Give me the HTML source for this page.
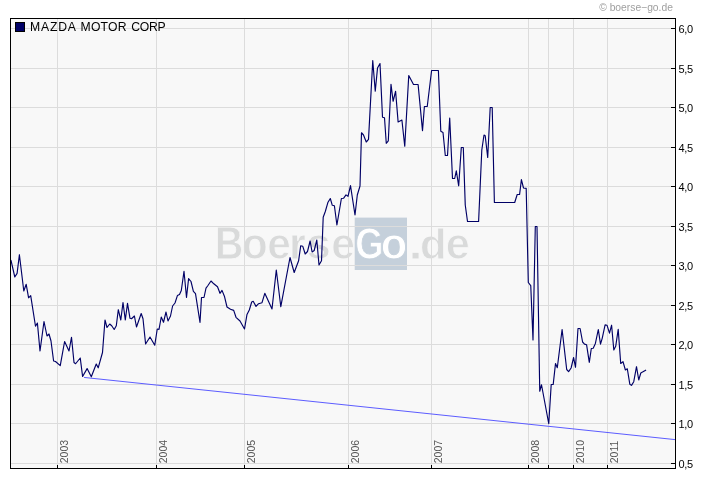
<!DOCTYPE html><html><head><meta charset="utf-8"><style>html,body{margin:0;padding:0;background:#fff;width:720px;height:481px;overflow:hidden}svg{display:block;will-change:transform}</style></head><body>
<svg width="720" height="481" viewBox="0 0 720 481" font-family='"Liberation Sans", sans-serif'>
<rect x="0" y="0" width="720" height="481" fill="#ffffff"/>
<rect x="11" y="19" width="664" height="449" fill="#f8f8f8"/>
<rect x="354.7" y="217.6" width="52.3" height="52.4" fill="#c5d0db"/>
<text transform="translate(214.93,258.7) scale(0.856,1)" font-size="45.8" font-weight="bold" fill="#d9dada" stroke="#f8f8f8" stroke-width="0.9">B</text>
<text transform="translate(242.11,258.7) scale(0.958,1)" font-size="43.9" font-weight="bold" fill="#d9dada" stroke="#f8f8f8" stroke-width="0.9">o</text>
<text transform="translate(267.19,258.7) scale(0.967,1)" font-size="43.9" font-weight="bold" fill="#d9dada" stroke="#f8f8f8" stroke-width="0.9">e</text>
<text transform="translate(288.91,258.7) scale(0.983,1)" font-size="43.9" font-weight="bold" fill="#d9dada" stroke="#f8f8f8" stroke-width="0.9">r</text>
<text transform="translate(306.73,258.7) scale(0.982,1)" font-size="43.9" font-weight="bold" fill="#d9dada" stroke="#f8f8f8" stroke-width="0.9">s</text>
<text transform="translate(331.18,258.7) scale(0.972,1)" font-size="43.9" font-weight="bold" fill="#d9dada" stroke="#f8f8f8" stroke-width="0.9">e</text>
<text transform="translate(355.26,258.7) scale(0.810,1)" font-size="44.8" font-weight="bold" fill="#ffffff" stroke="#c5d0db" stroke-width="0.9">G</text>
<text transform="translate(380.65,258.7) scale(0.988,1)" font-size="43.9" font-weight="bold" fill="#ffffff" stroke="#c5d0db" stroke-width="0.9">o</text>
<text transform="translate(408.49,258.7) scale(1.162,1)" font-size="43.9" font-weight="bold" fill="#d9dada" stroke="#f8f8f8" stroke-width="0.9">.</text>
<text transform="translate(419.64,258.7) scale(1.036,1)" font-size="42.7" font-weight="bold" fill="#d9dada" stroke="#f8f8f8" stroke-width="0.9">d</text>
<text transform="translate(445.76,258.7) scale(0.986,1)" font-size="43.9" font-weight="bold" fill="#d9dada" stroke="#f8f8f8" stroke-width="0.9">e</text>
<path d="M11 28.5H675 M11 68.5H675 M11 107.5H675 M11 147.5H675 M11 186.5H675 M11 226.5H675 M11 265.5H675 M11 305.5H675 M11 344.5H675 M11 384.5H675 M11 423.5H675 M11 463.5H675 M57.5 19V468 M156.5 19V468 M244.5 19V468 M348.5 19V468 M431.5 19V468 M528.5 19V468 M548.5 19V468 M573.5 19V468 M607.5 19V468" stroke="#dcdcdc" stroke-width="1" fill="none" shape-rendering="crispEdges"/>
<path d="M84.1 377.45L675 439.6" stroke="#5c5cff" stroke-width="1" fill="none"/>
<path d="M11 260.4 L14.8 277 L17.1 273.4 L19.4 254.7 L23.8 291 L26.2 284.3 L28.6 297.8 L30.7 295.7 L35.5 326.25 L37.4 323 L40 351 L44 321.5 L47 336 L49 334 L51 341 L53.6 361 L55.5 361.5 L60.25 365.6 L64.6 341.5 L69 351 L71.5 337.25 L74 362.5 L75.6 363.75 L80.25 358 L82.6 376.5 L87.1 368.6 L91.3 376.8 L96.25 364 L98.2 367.8 L102.5 352.5 L105 320 L107 327.5 L109.7 324 L111.7 325.8 L114.2 329.5 L116.3 325.8 L118.3 309.7 L120.8 320 L123 302.5 L125.3 320 L127.5 303.3 L130 318.3 L131.5 318.75 L134.4 316 L136.5 327 L141.2 313.5 L143 318.75 L145.6 344 L150 337 L154.75 345.25 L157.25 329 L159 329.4 L161.25 317 L163.5 322.25 L166 312 L168 321 L170.5 316 L172.6 306 L175 303 L177.4 295.6 L179.5 294.6 L181.3 290.5 L184 271.3 L186.5 297.5 L188.6 278.6 L191 281.5 L193.4 291.3 L195.5 293.7 L200 322.5 L201.5 297.5 L204 297.5 L206 288.2 L207.6 286 L211 281 L213.8 283.8 L217.5 286.7 L220 293.3 L222 290.4 L224.4 296.2 L227 307 L230.5 309.3 L233.7 310.4 L236 317.3 L240 321 L244.5 329 L247 314.4 L249.3 310 L251.7 302 L253.2 301.3 L256 306.4 L258.6 303.7 L262 302.7 L264.8 293.3 L272 309 L276.3 270 L280.8 306.7 L290 257.5 L294.2 272.5 L298.6 260.8 L300.7 245.8 L302.8 246.3 L305.2 254 L307.5 251.5 L310.1 241 L312.1 252 L314.2 250.5 L316.8 240 L319 265 L321.5 260.8 L323.2 217.2 L325.3 211.5 L328 202.2 L330.3 198.5 L332.3 205.3 L334.4 205.8 L336.9 225 L341.4 198.5 L343.5 198.3 L346 194.9 L348 196.3 L350.5 185.6 L355 215 L357.3 195 L360 186 L361.5 132.75 L363.5 135 L366.25 142 L368.5 139.4 L372.75 60.6 L375.25 91.25 L377.5 68.1 L380 63.5 L382.5 117.2 L384.5 117.7 L386.25 143.3 L388.3 140.8 L391 84.4 L393.1 101.25 L395.6 91.25 L398.1 121.9 L401.9 120 L404.75 146.25 L408.75 75.6 L413.5 84.5 L418.1 84.5 L422.5 130.6 L424.4 106.5 L427.25 106.5 L431.6 70.5 L438.4 70.5 L440.8 131.3 L443 132.5 L445.3 155.5 L447.5 155.5 L449.7 118 L452.5 178.5 L454.7 178.5 L456.3 170.8 L458.7 185.8 L461.3 147.5 L463.3 147.5 L465.25 205 L467.5 221.5 L478.6 221.5 L481.8 150 L484 135 L485.2 135.8 L487.7 157.5 L490.2 107.5 L492.2 107.5 L494.4 202.5 L514.7 202.5 L517.2 194.5 L519.6 194.5 L521.4 179.6 L523.5 188 L526.2 188.4 L528.3 282.5 L530.75 285.6 L533 340 L535.3 226.5 L537 226.5 L539.75 391.25 L541.5 384.75 L548.75 423.75 L551.2 384.5 L553.2 384.5 L555.5 363.6 L557.3 367.7 L562.1 329.5 L566.7 369.5 L568.6 371.6 L571.1 368 L573.6 357.5 L575.5 367.3 L578 328.5 L580.1 328.5 L582.6 342 L584.5 344.1 L586.6 344.8 L589.3 362.3 L591.3 348.5 L593.2 348.2 L595.4 343.4 L598.3 329.5 L600.5 344.1 L602.2 338.3 L605.1 324.9 L607 325.2 L609.5 333.2 L611.6 325.2 L613.8 349.9 L615.7 346.3 L618.2 329.3 L620.7 363.5 L623 361.7 L625.4 370 L627.3 368.75 L629.8 384.2 L631.5 385.4 L633.75 381.7 L636.5 366.7 L638.75 380 L640.8 373 L642.5 372.1 L645.7 370.2" stroke="#000066" stroke-width="1.15" fill="none" stroke-linejoin="round" stroke-linecap="round"/>
<path d="M10.5 18V468.5H675.5V18M10 18.5H676" stroke="#000" stroke-width="1" fill="none" shape-rendering="crispEdges"/>
<path d="M671 28.5H675 M671 68.5H675 M671 107.5H675 M671 147.5H675 M671 186.5H675 M671 226.5H675 M671 265.5H675 M671 305.5H675 M671 344.5H675 M671 384.5H675 M671 423.5H675 M671 463.5H675 M57.5 465V468 M156.5 465V468 M244.5 465V468 M348.5 465V468 M431.5 465V468 M528.5 465V468 M548.5 465V468 M573.5 465V468 M607.5 465V468" stroke="#000" stroke-width="1" fill="none" shape-rendering="crispEdges"/>
<text x="678.6" y="33" font-size="11" letter-spacing="-0.4" fill="#000">6,0</text>
<text x="678.6" y="73" font-size="11" letter-spacing="-0.4" fill="#000">5,5</text>
<text x="678.6" y="112" font-size="11" letter-spacing="-0.4" fill="#000">5,0</text>
<text x="678.6" y="152" font-size="11" letter-spacing="-0.4" fill="#000">4,5</text>
<text x="678.6" y="191" font-size="11" letter-spacing="-0.4" fill="#000">4,0</text>
<text x="678.6" y="231" font-size="11" letter-spacing="-0.4" fill="#000">3,5</text>
<text x="678.6" y="270" font-size="11" letter-spacing="-0.4" fill="#000">3,0</text>
<text x="678.6" y="310" font-size="11" letter-spacing="-0.4" fill="#000">2,5</text>
<text x="678.6" y="349" font-size="11" letter-spacing="-0.4" fill="#000">2,0</text>
<text x="678.6" y="389" font-size="11" letter-spacing="-0.4" fill="#000">1,5</text>
<text x="678.6" y="428" font-size="11" letter-spacing="-0.4" fill="#000">1,0</text>
<text x="678.6" y="468" font-size="11" letter-spacing="-0.4" fill="#000">0,5</text>
<text transform="translate(68,463.3) rotate(-90)" font-size="10.5" fill="#555">2003</text>
<text transform="translate(167,463.3) rotate(-90)" font-size="10.5" fill="#555">2004</text>
<text transform="translate(255,463.3) rotate(-90)" font-size="10.5" fill="#555">2005</text>
<text transform="translate(359,463.3) rotate(-90)" font-size="10.5" fill="#555">2006</text>
<text transform="translate(442,463.3) rotate(-90)" font-size="10.5" fill="#555">2007</text>
<text transform="translate(539,463.3) rotate(-90)" font-size="10.5" fill="#555">2008</text>
<text transform="translate(584,463.3) rotate(-90)" font-size="10.5" fill="#555">2010</text>
<text transform="translate(618,463.3) rotate(-90)" font-size="10.5" fill="#555">2011</text>
<rect x="15.5" y="22.5" width="9" height="9" fill="#000066" stroke="#000" stroke-width="1" shape-rendering="crispEdges"/>
<text x="30" y="31" font-size="12.2" letter-spacing="0.83" fill="#000">MAZDA</text>
<text x="80.5" y="31" font-size="12.2" letter-spacing="0.23" fill="#000">MOTOR</text>
<text x="131.3" y="31" font-size="12.2" letter-spacing="-0.29" fill="#000">CORP</text>
<text x="599.2" y="11" font-size="10.3" fill="#a0a0a0">© boerse−go.de</text>
</svg></body></html>
